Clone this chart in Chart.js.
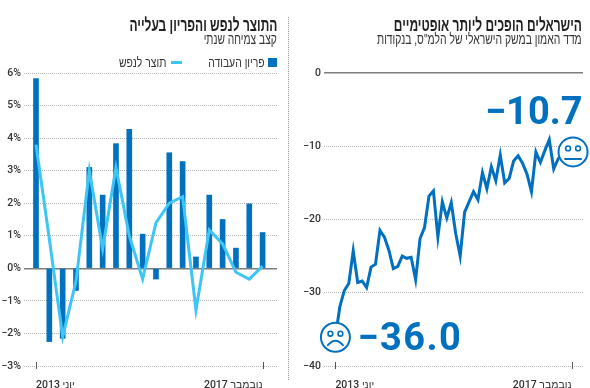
<!DOCTYPE html>
<html lang="he"><head><meta charset="utf-8">
<script src="https://cdn.jsdelivr.net/npm/chart.js@4"></script>
<style>
html,body{margin:0;padding:0;background:#fff;width:590px;height:388px;overflow:hidden}
canvas{position:absolute;top:0}
.t{position:absolute;direction:rtl;white-space:nowrap;color:#222;transform-origin:right center;font-family:"Liberation Sans",sans-serif;line-height:1}
.b{font-weight:bold;font-size:18px}
.s{font-size:15px;color:#333}
.l{font-size:13px;color:#333}
</style></head><body>
<div id="c1" style="position:absolute;left:0;top:0;width:295px;height:388px"><canvas id="a"></canvas></div>
<div id="c2" style="position:absolute;left:295px;top:0;width:295px;height:388px"><canvas id="b"></canvas></div>
<div style="position:absolute;left:288px;top:17px;height:363px;border-left:1px dotted #999"></div>
<div class="t b" style="right:313px;top:16px;transform:scaleX(.665)">התוצר לנפש והפריון בעלייה</div>
<div class="t s" style="right:313px;top:31px;transform:scaleX(.685)">קצב צמיחה שנתי</div>
<div class="t b" style="right:8px;top:16px;transform:scaleX(.665)">הישראלים הופכים ליותר אופטימיים</div>
<div class="t s" style="right:8px;top:31px;transform:scaleX(.69)">מדד האמון במשק הישראלי של הלמ"ס, בנקודות</div>
<div style="position:absolute;left:268px;top:58px;width:9px;height:9px;background:#0070bf"></div>
<div class="t l" style="right:325px;top:56px;transform:scaleX(.8)">פריון העבודה</div>
<div style="position:absolute;left:171px;top:60.5px;width:11px;height:3px;background:#3cc5f5"></div>
<div class="t l" style="right:424px;top:56px;transform:scaleX(.8)">תוצר לנפש</div>
<script>
const quarters = ['יוני 2013','','','','','','','','','','','','','','','','','נובמבר 2017'];
const productivity = [5.83,-2.25,-2.15,-0.68,3.1,2.25,3.83,4.27,1.05,-0.33,3.55,3.28,0.35,2.25,1.5,0.62,1.98,1.1];
const gdpPerCapita = [3.8,0.9,-2.1,-0.4,3.0,0.6,3.1,1.0,-0.33,1.4,2.0,2.2,-1.28,1.18,0.75,-0.12,-0.33,0.07];
const confidenceStart = 'יוני 2013', confidenceEnd = 'נובמבר 2017';
const confidence = [-36,-31.9,-29.7,-28.75,-24.3,-28.6,-28.4,-29.3,-26.5,-26.1,-21.5,-22.4,-24.2,-26.7,-26.4,-25,-25.3,-25.15,-28.2,-22.6,-21.1,-16.8,-16.1,-22.4,-17.6,-19.8,-17.7,-21.9,-25,-19,-17.6,-16.2,-17.3,-13.6,-15.8,-12.8,-14.7,-11.2,-15,-14.4,-12,-11.3,-12.3,-13.8,-16.2,-10.8,-12.2,-10.6,-9.1,-13.1,-11.7,-11,-10.6,-10.7];
const leftTicks = [-3,-2,-1,0,1,2,3,4,5,6];
const rightTicks = [-40,-30,-20,-10,0];
const BLUE='#0070bf', LIGHT='#3cc5f5', GRID='#b5b5b5', ZERO='#7d7d7d', INK='#333';
const tickFont={family:'Roboto,"Liberation Sans",sans-serif',size:10.5,weight:'500'};
const minus=v=>v<0?'\u2212'+Math.abs(v):String(v);
const tickMarks={id:'tickMarks',afterDraw(c){const x=c.scales.x,y=c.scales.y,g=c.ctx;const b=y.getPixelForValue(y.min);
 g.save();g.strokeStyle='#555';g.lineWidth=1;
 [0,c.$last].forEach(v=>{const p=Math.round(x.getPixelForValue(v))+.5;g.beginPath();g.moveTo(p,b-4);g.lineTo(p,b+3);g.stroke();});
 g.restore();}};
function yAxis(ticks,suffix,width){return {min:ticks[0],max:ticks[ticks.length-1],
 afterBuildTicks:s=>{s.ticks=ticks.map(v=>({value:v}));},
 afterFit:s=>{s.width=width;},
 grid:{drawTicks:false,color:c=>c.tick&&c.tick.value===0?ZERO:GRID,lineWidth:c=>c.tick&&c.tick.value===0?1.5:1},
 border:{display:false,dash:c=>c.tick&&c.tick.value===0?[]:[1,1]},
 ticks:{padding:3,color:INK,font:tickFont,callback:v=>minus(v)+suffix}};}
function xAxis(min,max,last,labels){return {type:'linear',min,max,offset:false,
 afterBuildTicks:s=>{s.ticks=[{value:0},{value:last}];},
 afterFit:s=>{s.height=22;},
 grid:{display:false,offset:false},border:{display:false},
 ticks:{autoSkip:false,maxRotation:0,align:'inner',padding:5,color:INK,font:tickFont,callback:v=>labels[v]}};}
const base={responsive:false,animation:false,plugins:{legend:{display:false},tooltip:{enabled:false}}};
const ca=document.getElementById('a');ca.width=295;ca.height=388;
const chartA=new Chart(ca,{type:'bar',
 data:{labels:quarters,datasets:[
  {type:'line',label:'תוצר לנפש',data:gdpPerCapita.map((v,i)=>({x:i,y:v})),borderColor:LIGHT,borderWidth:3,pointRadius:0,tension:0,order:1,borderJoinStyle:'miter'},
  {type:'bar',label:'פריון העבודה',data:productivity.map((v,i)=>({x:i,y:v})),backgroundColor:BLUE,barThickness:5,order:2}]},
 options:{...base,layout:{padding:{top:73,right:18,bottom:0,left:0}},
  scales:{x:xAxis(-0.9,18.08,17,quarters),y:yAxis(leftTicks,'%',24)}},
 plugins:[tickMarks]});
chartA.$last=17;chartA.draw();
function face(g,x,y,kind){g.save();g.strokeStyle=BLUE;g.lineWidth=2;g.fillStyle='#fff';g.lineCap='round';
 g.beginPath();g.arc(x,y,14.5,0,Math.PI*2);g.fill();g.stroke();
 g.lineWidth=1.6;[-5,5].forEach(d=>{g.beginPath();g.arc(x+d,y-3.5,2.4,0,Math.PI*2);g.stroke();});
 g.lineWidth=2;g.beginPath();
 if(kind==='sad'){g.moveTo(x-7.5,y+8);g.quadraticCurveTo(x,y-1,x+7.5,y+8);}else{g.moveTo(x-8,y+7);g.lineTo(x+8,y+7);}
 g.stroke();g.restore();}
const callouts={id:'callouts',afterDatasetsDraw(c){const x=c.scales.x,y=c.scales.y,g=c.ctx;const n=confidence.length-1;
 const x0=x.getPixelForValue(0),y0=y.getPixelForValue(confidence[0]),x1=x.getPixelForValue(n),y1=y.getPixelForValue(confidence[n]);
 face(g,x0,y0+.5,'sad');face(g,x1+1.5,y1+.5,'flat');
 g.save();g.fillStyle=BLUE;g.textBaseline='middle';
 g.font='700 38px Roboto,sans-serif';g.textAlign='right';g.fillText('\u2212'+Math.abs(confidence[n]).toFixed(1),x1+11,y1-37);
 g.font='700 38px Roboto,sans-serif';g.textAlign='left';g.letterSpacing='1.5px';g.fillText('\u2212'+Math.abs(confidence[0]).toFixed(1),x0+22,y0+4);
 g.restore();}};
const cb=document.getElementById('b');cb.width=295;cb.height=388;
const chartB=new Chart(cb,{type:'line',
 data:{labels:confidence.map((v,i)=>i),datasets:[{label:'מדד האמון',data:confidence.map((v,i)=>({x:i,y:v})),borderColor:BLUE,borderWidth:3,pointRadius:0,tension:0,borderJoinStyle:'miter'}]},
 options:{...base,layout:{padding:{top:73,right:7,bottom:0,left:0}},
  scales:{x:xAxis(-2.56,55.57,53,{0:confidenceStart,53:confidenceEnd}),y:yAxis(rightTicks,'',29)}},
 plugins:[tickMarks,callouts]});
chartB.$last=53;chartB.draw();
</script>
</body></html>
